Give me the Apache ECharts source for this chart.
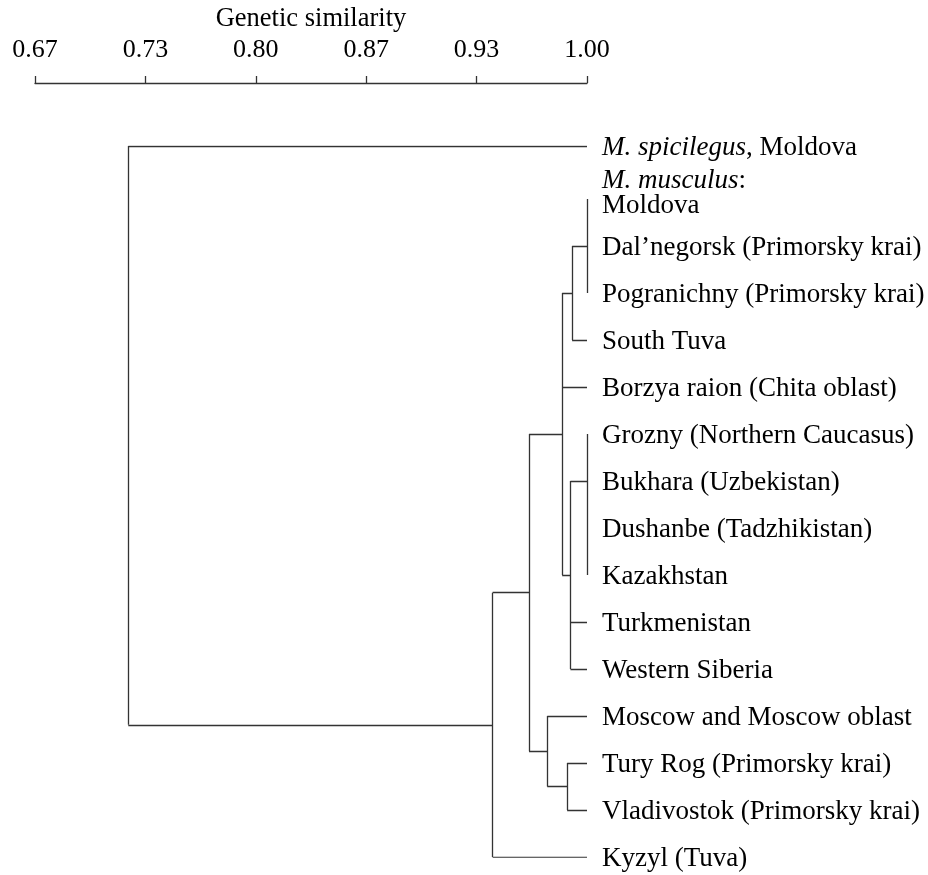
<!DOCTYPE html>
<html>
<head>
<meta charset="utf-8">
<script src="https://cdn.jsdelivr.net/npm/echarts@6/dist/echarts.min.js"></script>
<style>
html, body { margin: 0; padding: 0; background: #ffffff; }
#chart { width: 928px; height: 875px; }
</style>
</head>
<body>
<div id="chart"></div>
<script>
// ---------------- DATA ----------------
const tickLabels = ['0.67', '0.73', '0.80', '0.87', '0.93', '1.00'];
const axisTitle = 'Genetic similarity';

const outgroupLeaf = 'M. spicilegus, Moldova';
const ingroupHeader = 'M. musculus:';
const ingroupLeaves = [
  'Moldova',
  'Dal’negorsk (Primorsky krai)',
  'Pogranichny (Primorsky krai)',
  'South Tuva',
  'Borzya raion (Chita oblast)',
  'Grozny (Northern Caucasus)',
  'Bukhara (Uzbekistan)',
  'Dushanbe (Tadzhikistan)',
  'Kazakhstan',
  'Turkmenistan',
  'Western Siberia',
  'Moscow and Moscow oblast',
  'Tury Rog (Primorsky krai)',
  'Vladivostok (Primorsky krai)',
  'Kyzyl (Tuva)'
];
const leafSimilarity = 1.0;

// internal nodes of the dendrogram
const nodeNames = ['root', 'musculus', 'core', 'west', 'moldovaGroup', 'moldovaCore',
                   'asiaGroup', 'asiaCore', 'eastGroup', 'primorsky'];
const nodeSimilarity = [0.723, 0.943, 0.965, 0.985, 0.991, 1.000, 0.990, 1.000, 0.976, 0.988];
const nodeChildren = [
  ['M. spicilegus, Moldova', 'musculus'],
  ['core', 'Kyzyl (Tuva)'],
  ['west', 'eastGroup'],
  ['moldovaGroup', 'Borzya raion (Chita oblast)', 'asiaGroup'],
  ['moldovaCore', 'South Tuva'],
  ['Moldova', 'Dal’negorsk (Primorsky krai)', 'Pogranichny (Primorsky krai)'],
  ['asiaCore', 'Turkmenistan', 'Western Siberia'],
  ['Grozny (Northern Caucasus)', 'Bukhara (Uzbekistan)', 'Dushanbe (Tadzhikistan)', 'Kazakhstan'],
  ['Moscow and Moscow oblast', 'primorsky'],
  ['Tury Rog (Primorsky krai)', 'Vladivostok (Primorsky krai)']
];
// child through which a node connects to its parent (null = middle of its span)
const nodeJoinAt = [null, null, null, null, null, null, null, 'Bukhara (Uzbekistan)', null, null];

// ---------------- LAYOUT ----------------
const AXIS_MIN = 2 / 3;
const AXIS_MAX = 1;
const OUTGROUP_ROW = -1.13;
const FONT = '"Liberation Serif", "Times New Roman", serif';
const TEXT_COLOR = '#000000';
const LINE_COLOR = '#333333';
const LABEL_SIZE = 27;
const TICK_SIZE = 26;
const TITLE_SIZE = 26.5;

const tickValues = tickLabels.map((_, i) => AXIS_MIN + i * (AXIS_MAX - AXIS_MIN) / (tickLabels.length - 1));

function isNode(name) { return nodeNames.indexOf(name) >= 0; }
function rowOfLeaf(name) { return name === outgroupLeaf ? OUTGROUP_ROW : ingroupLeaves.indexOf(name); }
function xOf(name) { return isNode(name) ? nodeSimilarity[nodeNames.indexOf(name)] : leafSimilarity; }
function joinRow(name) {
  if (!isNode(name)) return rowOfLeaf(name);
  const i = nodeNames.indexOf(name);
  if (nodeJoinAt[i]) return joinRow(nodeJoinAt[i]);
  const rows = nodeChildren[i].map(joinRow);
  return (Math.min.apply(null, rows) + Math.max.apply(null, rows)) / 2;
}

const segments = [];
nodeNames.forEach((n, i) => {
  const x = nodeSimilarity[i];
  const rows = nodeChildren[i].map(joinRow);
  segments.push({ coords: [[x, Math.min.apply(null, rows)], [x, Math.max.apply(null, rows)]] });
  nodeChildren[i].forEach((c, k) => {
    const cx = xOf(c);
    if (cx - x > 1e-9) segments.push({ coords: [[x, rows[k]], [cx, rows[k]]] });
  });
});

const labelData = [outgroupLeaf].concat(ingroupLeaves).map(name => ({
  name: name,
  value: [leafSimilarity, rowOfLeaf(name)]
}));

function leafLabel(p) {
  if (p.name === outgroupLeaf) return '{i|M. spicilegus}, Moldova';
  if (p.name === ingroupLeaves[0]) return '{i|' + ingroupHeader.replace(':', '') + '}:\n' + p.name;
  return p.name;
}

const chart = echarts.init(document.getElementById('chart'), null, { renderer: 'canvas' });
chart.setOption({
  animation: false,
  backgroundColor: '#ffffff',
  grid: { left: 35, right: 341, top: 146, bottom: 18, containLabel: false },
  xAxis: {
    type: 'value',
    min: AXIS_MIN,
    max: AXIS_MAX,
    position: 'top',
    offset: 63,
    name: axisTitle,
    nameLocation: 'middle',
    nameGap: 50,
    nameTextStyle: { fontFamily: FONT, fontSize: TITLE_SIZE, color: TEXT_COLOR },
    axisLine: { show: true, onZero: false, lineStyle: { color: LINE_COLOR, width: 1.3 } },
    axisTick: { show: true, length: 7, customValues: tickValues, lineStyle: { color: LINE_COLOR, width: 1.3 } },
    axisLabel: {
      show: true,
      customValues: tickValues,
      margin: 20,
      fontFamily: FONT,
      fontSize: TICK_SIZE,
      color: TEXT_COLOR,
      formatter: v => tickLabels[Math.round((v - AXIS_MIN) / (AXIS_MAX - AXIS_MIN) * (tickLabels.length - 1))]
    },
    splitLine: { show: false }
  },
  yAxis: {
    type: 'value',
    inverse: true,
    min: OUTGROUP_ROW,
    max: ingroupLeaves.length - 1,
    show: false
  },
  series: [
    {
      type: 'lines',
      coordinateSystem: 'cartesian2d',
      silent: true,
      polyline: false,
      lineStyle: { color: LINE_COLOR, width: 1.3, opacity: 1, curveness: 0 },
      data: segments
    },
    {
      type: 'scatter',
      symbolSize: 0,
      silent: true,
      itemStyle: { opacity: 1 },
      data: labelData,
      label: {
        show: true,
        position: 'right',
        distance: 15,
        opacity: 1,
        fontFamily: FONT,
        fontSize: LABEL_SIZE,
        color: TEXT_COLOR,
        lineHeight: 25,
        formatter: leafLabel,
        rich: {
          i: { fontFamily: FONT, fontSize: LABEL_SIZE, fontStyle: 'italic', color: TEXT_COLOR, lineHeight: 25 }
        }
      },
      labelLayout: function (params) {
        return params.dataIndex === 1 ? { dy: -6 } : { dy: 2 };
      }
    }
  ]
});
</script>
</body>
</html>
